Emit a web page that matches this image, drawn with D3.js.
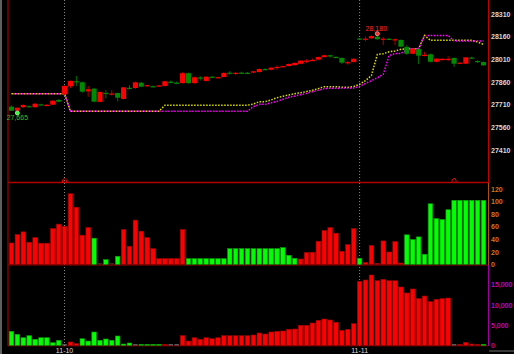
<!DOCTYPE html>
<html>
<head>
<meta charset="utf-8">
<script src="https://cdn.jsdelivr.net/npm/d3@7/dist/d3.min.js"></script>
<style>
html, body { margin: 0; padding: 0; background: #000; }
svg { display: block; }
text { font-family: "Liberation Sans", Arial, sans-serif; }
</style>
</head>
<body>
<svg id="chart" width="514" height="354"></svg>
<script>
// candles: [open, high, low, close]
var candles = [
  [27697, 27705, 27668, 27670], [27670, 27692, 27665, 27690], [27693, 27712, 27688, 27708],
  [27700, 27706, 27694, 27697], [27693, 27722, 27690, 27716], [27712, 27716, 27706, 27709],
  [27706, 27714, 27698, 27709], [27710, 27740, 27706, 27736], [27741, 27746, 27726, 27730],
  [27779, 27836, 27776, 27834], [27832, 27870, 27820, 27867], [27865, 27900, 27834, 27861],
  [27858, 27862, 27790, 27796], [27798, 27834, 27762, 27812], [27816, 27820, 27725, 27730],
  [27728, 27798, 27726, 27794], [27788, 27806, 27752, 27782], [27780, 27806, 27770, 27784],
  [27787, 27790, 27732, 27756], [27748, 27826, 27745, 27825], [27822, 27840, 27810, 27818],
  [27820, 27862, 27815, 27858], [27855, 27860, 27826, 27829], [27835, 27842, 27830, 27839],
  [27832, 27838, 27826, 27829], [27834, 27840, 27828, 27837], [27834, 27868, 27830, 27865],
  [27862, 27870, 27850, 27859], [27856, 27863, 27846, 27852], [27853, 27925, 27850, 27918],
  [27918, 27922, 27848, 27853], [27853, 27896, 27848, 27891], [27890, 27898, 27870, 27882],
  [27867, 27898, 27864, 27895], [27895, 27900, 27888, 27891], [27890, 27896, 27884, 27892],
  [27893, 27924, 27890, 27920], [27922, 27932, 27908, 27918], [27918, 27924, 27905, 27921],
  [27922, 27928, 27914, 27919], [27921, 27926, 27915, 27918], [27922, 27934, 27918, 27931],
  [27926, 27950, 27922, 27946], [27946, 27952, 27938, 27942], [27941, 27958, 27937, 27955],
  [27956, 27970, 27940, 27960], [27962, 27968, 27956, 27965], [27966, 27982, 27962, 27979],
  [27972, 27990, 27968, 27986], [27981, 28004, 27978, 28001], [27998, 28010, 27985, 28002],
  [28003, 28015, 27998, 28006], [28008, 28028, 28004, 28025], [28025, 28040, 28022, 28037],
  [28037, 28040, 28020, 28034], [28026, 28030, 28020, 28023], [28019, 28022, 27980, 27988],
  [27988, 28000, 27975, 27991], [27992, 28016, 27990, 28014], [28148, 28152, 28140, 28144],
  [28143, 28160, 28130, 28147], [28149, 28168, 28146, 28164], [28160, 28180, 28140, 28143],
  [28143, 28158, 28105, 28147], [28146, 28152, 28138, 28143], [28140, 28148, 28105, 28143],
  [28138, 28142, 28090, 28094], [28092, 28104, 28040, 28047], [28047, 28084, 28044, 28078],
  [28078, 28082, 27979, 28034], [28036, 28060, 28030, 28040], [28043, 28048, 27990, 27994],
  [27994, 28018, 27990, 28014], [28010, 28018, 28002, 28013], [28010, 28030, 27998, 28013],
  [28019, 28022, 27960, 27981], [27984, 27992, 27978, 27988], [27981, 28025, 27978, 28023],
  [28022, 28028, 28012, 28018], [27999, 28004, 27985, 27995], [27992, 27996, 27968, 27970]
];
// yellow dotted line
var lineA = [
  27783, 27783, 27783, 27783, 27783, 27783, 27783, 27783, 27783, 27783,
  27666, 27666, 27666, 27666, 27666, 27666, 27666, 27666, 27666, 27666,
  27666, 27666, 27666, 27666, 27666, 27666, 27706, 27706, 27706, 27706,
  27706, 27706, 27706, 27706, 27706, 27706, 27706, 27706, 27706, 27706,
  27706, 27714, 27730, 27730, 27741, 27756, 27766, 27774, 27783, 27789,
  27797, 27805, 27816, 27829, 27829, 27829, 27825, 27825, 27830, 27845,
  27869, 27903, 28042, 28047, 28060, 28065, 28076, 28080, 28080, 28080,
  28168, 28136, 28136, 28136, 28136, 28136, 28136, 28136, 28136, 28125,
  28108
];
// magenta dotted line
var lineB = [
  27783, 27783, 27783, 27783, 27783, 27783, 27783, 27783, 27783, 27783,
  27666, 27666, 27666, 27666, 27666, 27666, 27666, 27666, 27666, 27666,
  27666, 27666, 27666, 27666, 27666, 27666, 27666, 27666, 27666, 27666,
  27666, 27666, 27666, 27666, 27666, 27666, 27666, 27666, 27666, 27666,
  27666, 27698, 27712, 27712, 27723, 27732, 27746, 27759, 27767, 27776,
  27785, 27796, 27805, 27816, 27818, 27818, 27820, 27820, 27820, 27832,
  27851, 27869, 27888, 27911, 28035, 28049, 28049, 28075, 28080, 28080,
  28168, 28168, 28168, 28168, 28168, 28133, 28131, 28131, 28131, 28131,
  28131
];
// middle panel: value and direction (1 red, -1 green, 0 flat)
var power = [
  34, 47.5, 51.7, 35.2, 42.7, 33.6, 33.6, 57, 64, 60.3,
  112.5, 91, 46.4, 58.7, 41.6, 0, 7.5, 0, 12.8, 55.5,
  28.8, 70.4, 52.8, 42.7, 25, 9, 9, 9, 9, 55.5,
  9, 9, 9, 9, 9, 9, 9, 25, 25, 25,
  25, 25, 25, 25, 25, 25, 26.7, 14.4, 9.6, 8.5,
  18.7, 19.2, 36.8, 54, 58.7, 49.6, 20.8, 31.5, 57, 9.6,
  3.2, 30, 0.5, 37.3, 19.7, 36.3, 2, 47, 39.5, 43.7,
  16, 96.5, 73, 71.5, 87, 102, 102, 102, 102, 102,
  102
];
var powerDir = [
  1, 1, 1, 1, 1, 1, 1, 1, 1, 1,
  1, 1, 1, 1, -1, 0, -1, 0, -1, 1,
  1, 1, 1, 1, 1, 1, 1, 1, 1, 1,
  -1, -1, -1, -1, -1, -1, -1, -1, -1, -1,
  -1, -1, -1, -1, -1, -1, -1, -1, -1, 1,
  1, 1, 1, 1, 1, 1, 1, 1, 1, -1,
  1, 1, 1, 1, 1, 1, 1, -1, -1, -1,
  -1, -1, -1, -1, -1, -1, -1, -1, -1, -1,
  -1
];
// bottom panel
var holding = [
  3465, 2720, 1880, 2380, 1490, 1880, 1880, 640, 1240, 0,
  820, 400, 1630, 1060, 3290, 1240, 1560, 1240, 2300, 320,
  570, 0, 240, 80, 160, 120, 120, 0, 0, 2380,
  1060, 1880, 1490, 1880, 1630, 1880, 2380, 2380, 2380, 2380,
  2380, 2550, 3050, 2800, 3290, 3465, 3540, 3960, 4030, 4950,
  4950, 5520, 6190, 6510, 6260, 5690, 3710, 3960, 5350, 15840,
  16160, 17400, 16000, 16340, 16000, 16000, 14430, 12950, 13940, 11540,
  12200, 10800, 11390, 11540, 11700, 0, 80, 740, 320, 80,
  160
];
var holdingDir = [
  -1, -1, -1, -1, -1, -1, -1, -1, -1, 0,
  1, 1, -1, -1, -1, -1, -1, -1, -1, -1,
  -1, 0, -1, -1, -1, -1, 1, 0, 0, 1,
  1, 1, 1, 1, 1, 1, 1, 1, 1, 1,
  1, 1, 1, 1, 1, 1, 1, 1, 1, 1,
  1, 1, 1, 1, 1, 1, 1, 1, 1, 1,
  1, 1, 1, 1, 1, 1, 1, 1, 1, 1,
  1, 1, 1, 1, 1, 0, 1, 1, 1, 1,
  -1
];
var priceTicks = [27410, 27560, 27710, 27860, 28010, 28160, 28310];
var powerTicks = [0, 20, 40, 60, 80, 100, 120];
var holdingTicks = [0, 5000, 10000, 15000];
var dayLabels = ['11-10', '11-11'];
var dayStart = [9, 59];
var signalBars = [9, 75];

var svg, x, bw, yP, yV, yH, mid, g, lowIdx, highIdx, fmt, line;
svg = d3.select('#chart');
svg.append('rect').attr('width', 514).attr('height', 354).attr('fill', '#000');

x = d3.scaleBand().domain(d3.range(candles.length)).range([8.5, 486.5]).padding(0);
bw = x.bandwidth();
mid = function(i){ return x(i) + bw / 2; };
yP = d3.scaleLinear().domain([27410, 28310]).range([150, 14]);
yV = d3.scaleLinear().domain([0, 120]).range([264.3, 189]);
yH = d3.scaleLinear().domain([0, 15000]).range([345.3, 284.7]);

// frame lines
svg.append('line').attr('x1', 1).attr('x2', 1).attr('y1', 0).attr('y2', 354).attr('stroke', '#606060').attr('stroke-width', 2);
svg.append('line').attr('x1', 8).attr('x2', 8).attr('y1', 0).attr('y2', 346).attr('stroke', '#c00000');
svg.append('line').attr('x1', 8).attr('x2', 488).attr('y1', 182.5).attr('y2', 182.5).attr('stroke', '#b00000').attr('stroke-width', 1.5);
svg.append('line').attr('x1', 8).attr('x2', 488).attr('y1', 265).attr('y2', 265).attr('stroke', '#a00000');
svg.append('line').attr('x1', 8).attr('x2', 488).attr('y1', 345.8).attr('y2', 345.8).attr('stroke', '#900000');
svg.append('line').attr('x1', 488.5).attr('x2', 488.5).attr('y1', 0).attr('y2', 183).attr('stroke', '#c00000');
svg.append('line').attr('x1', 488.5).attr('x2', 488.5).attr('y1', 183).attr('y2', 265).attr('stroke', '#b05010');
svg.append('line').attr('x1', 488.5).attr('x2', 488.5).attr('y1', 265).attr('y2', 346).attr('stroke', '#a000a0');
svg.append('line').attr('x1', 489).attr('x2', 514).attr('y1', 351).attr('y2', 351).attr('stroke', '#707070');

// day separators
svg.selectAll('line.day').data(dayStart).enter().append('line').attr('class', 'day')
  .attr('x1', function(d){ return mid(d); }).attr('x2', function(d){ return mid(d); })
  .attr('y1', 0).attr('y2', 346)
  .attr('stroke', '#8a8a8a').attr('stroke-dasharray', '1,2');
svg.selectAll('text.day').data(dayStart).enter().append('text').attr('class', 'day')
  .attr('x', function(d){ return mid(d); }).attr('y', 353)
  .attr('text-anchor', 'middle').attr('font-size', 7).attr('fill', '#d8d8d8')
  .text(function(d, i){ return dayLabels[i]; });

// dotted lines
line = d3.line().x(function(d, i){ return mid(i); }).y(function(d){ return yP(d); });
svg.append('path').attr('d', line(lineA)).attr('fill', 'none')
  .attr('stroke', '#e0e000').attr('stroke-width', 1.5).attr('stroke-dasharray', '1.5,1.5');
svg.append('path').attr('d', line(lineB)).attr('fill', 'none')
  .attr('stroke', '#ff00ff').attr('stroke-width', 1.5).attr('stroke-dasharray', '1.5,1.5').attr('stroke-dashoffset', 1.5);

// candles
g = svg.append('g').selectAll('g.candle').data(candles).enter().append('g').attr('class', 'candle');
g.append('line')
  .attr('x1', function(d, i){ return mid(i); }).attr('x2', function(d, i){ return mid(i); })
  .attr('y1', function(d){ return yP(d[1]); }).attr('y2', function(d){ return yP(d[2]); })
  .attr('stroke', function(d){ return d[3] >= d[0] ? '#b00000' : '#007000'; });
g.append('rect')
  .attr('x', function(d, i){ return x(i) + 0.4; })
  .attr('width', bw - 0.8)
  .attr('y', function(d){ return yP(Math.max(d[0], d[3])); })
  .attr('height', function(d){ return Math.max(1.2, Math.abs(yP(d[0]) - yP(d[3]))); })
  .attr('fill', function(d){ return d[3] >= d[0] ? '#ff0000' : '#008a00'; });

// low / high markers
fmt = d3.format(',');
lowIdx = d3.minIndex(candles, function(d){ return d[2]; });
highIdx = d3.maxIndex(candles, function(d){ return d[1]; });
svg.append('circle').attr('cx', mid(lowIdx)).attr('cy', yP(candles[lowIdx][2]) + 1.5).attr('r', 2)
  .attr('fill', '#30ff30').attr('stroke', '#a0ffa0').attr('stroke-width', 0.8);
svg.append('text').attr('x', mid(lowIdx)).attr('y', yP(candles[lowIdx][2]) + 8.5)
  .attr('text-anchor', 'middle').attr('font-size', 7).attr('fill', '#30c030')
  .text(fmt(candles[lowIdx][2]));
svg.append('circle').attr('cx', mid(highIdx)).attr('cy', yP(candles[highIdx][1])).attr('r', 2)
  .attr('fill', '#ff2020').attr('stroke', '#ffb0b0').attr('stroke-width', 0.8);
svg.append('text').attr('x', mid(highIdx) - 1).attr('y', yP(candles[highIdx][1]) - 3)
  .attr('text-anchor', 'middle').attr('font-size', 7).attr('fill', '#ff2a2a')
  .text(fmt(candles[highIdx][1]));

// middle panel bars
svg.append('g').selectAll('rect').data(power).enter().append('rect')
  .attr('x', function(d, i){ return x(i) + 0.7; })
  .attr('width', bw - 1.4)
  .attr('y', function(d){ return Math.min(yV(d), yV(0) - 1); })
  .attr('height', function(d){ return Math.max(1, yV(0) - yV(d)); })
  .attr('fill', function(d, i){ return powerDir[i] > 0 ? '#ff0000' : powerDir[i] < 0 ? '#00ff00' : '#603030'; })
  .attr('stroke', function(d, i){ return powerDir[i] > 0 ? '#a00000' : powerDir[i] < 0 ? '#00a000' : 'none'; })
  .attr('stroke-width', 0.6);

// bottom panel bars
svg.append('g').selectAll('rect').data(holding).enter().append('rect')
  .attr('x', function(d, i){ return x(i) + 0.7; })
  .attr('width', bw - 1.4)
  .attr('y', function(d){ return Math.min(yH(d), yH(0) - 1); })
  .attr('height', function(d){ return Math.max(1, yH(0) - yH(d)); })
  .attr('fill', function(d, i){ return holdingDir[i] > 0 ? '#ff0000' : holdingDir[i] < 0 ? '#00ff00' : '#808080'; })
  .attr('stroke', function(d, i){ return holdingDir[i] > 0 ? '#a00000' : holdingDir[i] < 0 ? '#00a000' : 'none'; })
  .attr('stroke-width', 0.6);

// signal markers
svg.selectAll('path.sig').data(signalBars).enter().append('path').attr('class', 'sig')
  .attr('d', function(d){ var c = mid(d); return 'M' + (c - 2) + ',183V180L' + c + ',178L' + (c + 2) + ',180V183'; })
  .attr('fill', 'none').attr('stroke', '#e00000').attr('stroke-width', 1);

// right axes
function rightAxis(scale, ticks, format, color){
  var a = svg.append('g').attr('transform', 'translate(488,0)')
    .call(d3.axisRight(scale).tickValues(ticks).tickSize(0).tickPadding(3).tickFormat(format));
  a.select('.domain').remove();
  a.selectAll('text').attr('fill', color).attr('font-size', 7).attr('font-weight', 'bold')
    .attr('font-family', '"Liberation Sans", Arial, sans-serif');
  return a;
}
rightAxis(yP, priceTicks, d3.format('d'), '#d8d8d8');
rightAxis(yV, powerTicks, d3.format('d'), '#d07818');
rightAxis(yH, holdingTicks, d3.format(','), '#c000c0');
</script>
</body>
</html>
